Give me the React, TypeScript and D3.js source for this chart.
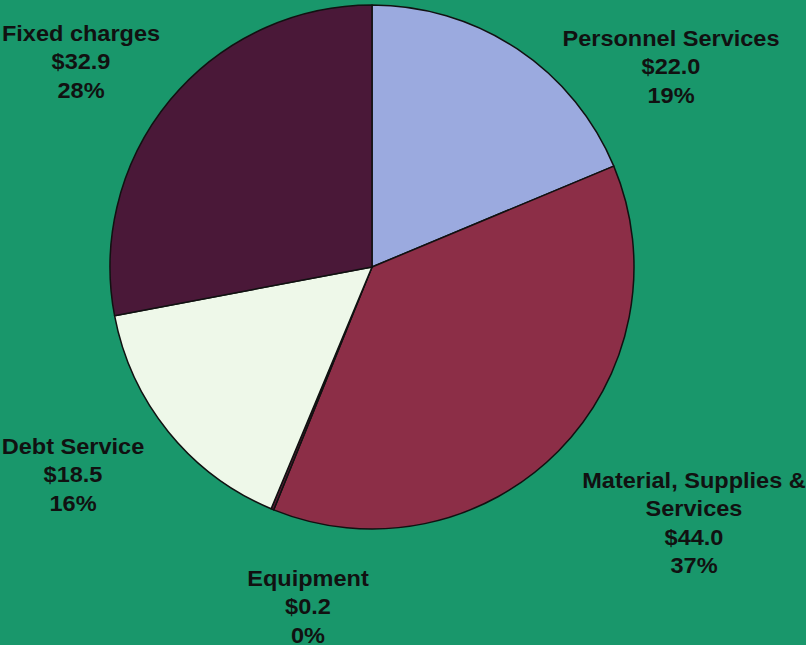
import React from "react";
import * as d3 from "d3";

const categories = ["Personnel Services", "Material, Supplies & Services", "Equipment", "Debt Service", "Fixed charges"];
const values = [22.0, 44.0, 0.2, 18.5, 32.9];
const percents = ["19%", "37%", "0%", "16%", "28%"];
const colors = ["#9BAADF", "#8C2E47", "#5A1A35", "#EEF8E9", "#4A1838"];
const labelLines = [
  ["Personnel Services"],
  ["Material, Supplies &", "Services"],
  ["Equipment"],
  ["Debt Service"],
  ["Fixed charges"],
];
const labelPos = [
  [671, 38],
  [694, 480],
  [308, 578],
  [73, 446],
  [81, 33],
];

export default function App() {
  const W = 806, H = 645;
  const cx = 372, cy = 267, r = 262;
  const pie = d3.pie<number>().sort(null).value((d) => d)(values);
  const arc = d3.arc<d3.PieArcDatum<number>>().innerRadius(0).outerRadius(r);
  const lh = 28.5;
  const sx = 1.07;
  return (
    <svg width={W} height={H} style={{ position: "absolute", left: 0, top: 0, background: "#19976B" }}>
      <rect x={0} y={0} width={W} height={H} fill="#19976B" />
      <g transform={`translate(${cx},${cy})`}>
        {pie.map((p, i) => (
          <path key={i} d={arc(p) || ""} fill={colors[i]} stroke="#111" strokeWidth={1.5} strokeLinejoin="round" />
        ))}
      </g>
      {categories.map((c, i) => {
        const lines = [...labelLines[i], "$" + values[i].toFixed(1), percents[i]];
        const [x, y] = labelPos[i];
        return (
          <g key={c} transform={`translate(${x},${y}) scale(${sx},1)`}>
            <text x={0} y={0} textAnchor="middle" fontFamily="'Liberation Sans', Arial, sans-serif" fontWeight="bold" fontSize={22} fill="#111">
              {lines.map((l, j) => (
                <tspan key={j} x={0} y={j * lh} dy="0.35em">{l}</tspan>
              ))}
            </text>
          </g>
        );
      })}
    </svg>
  );
}
